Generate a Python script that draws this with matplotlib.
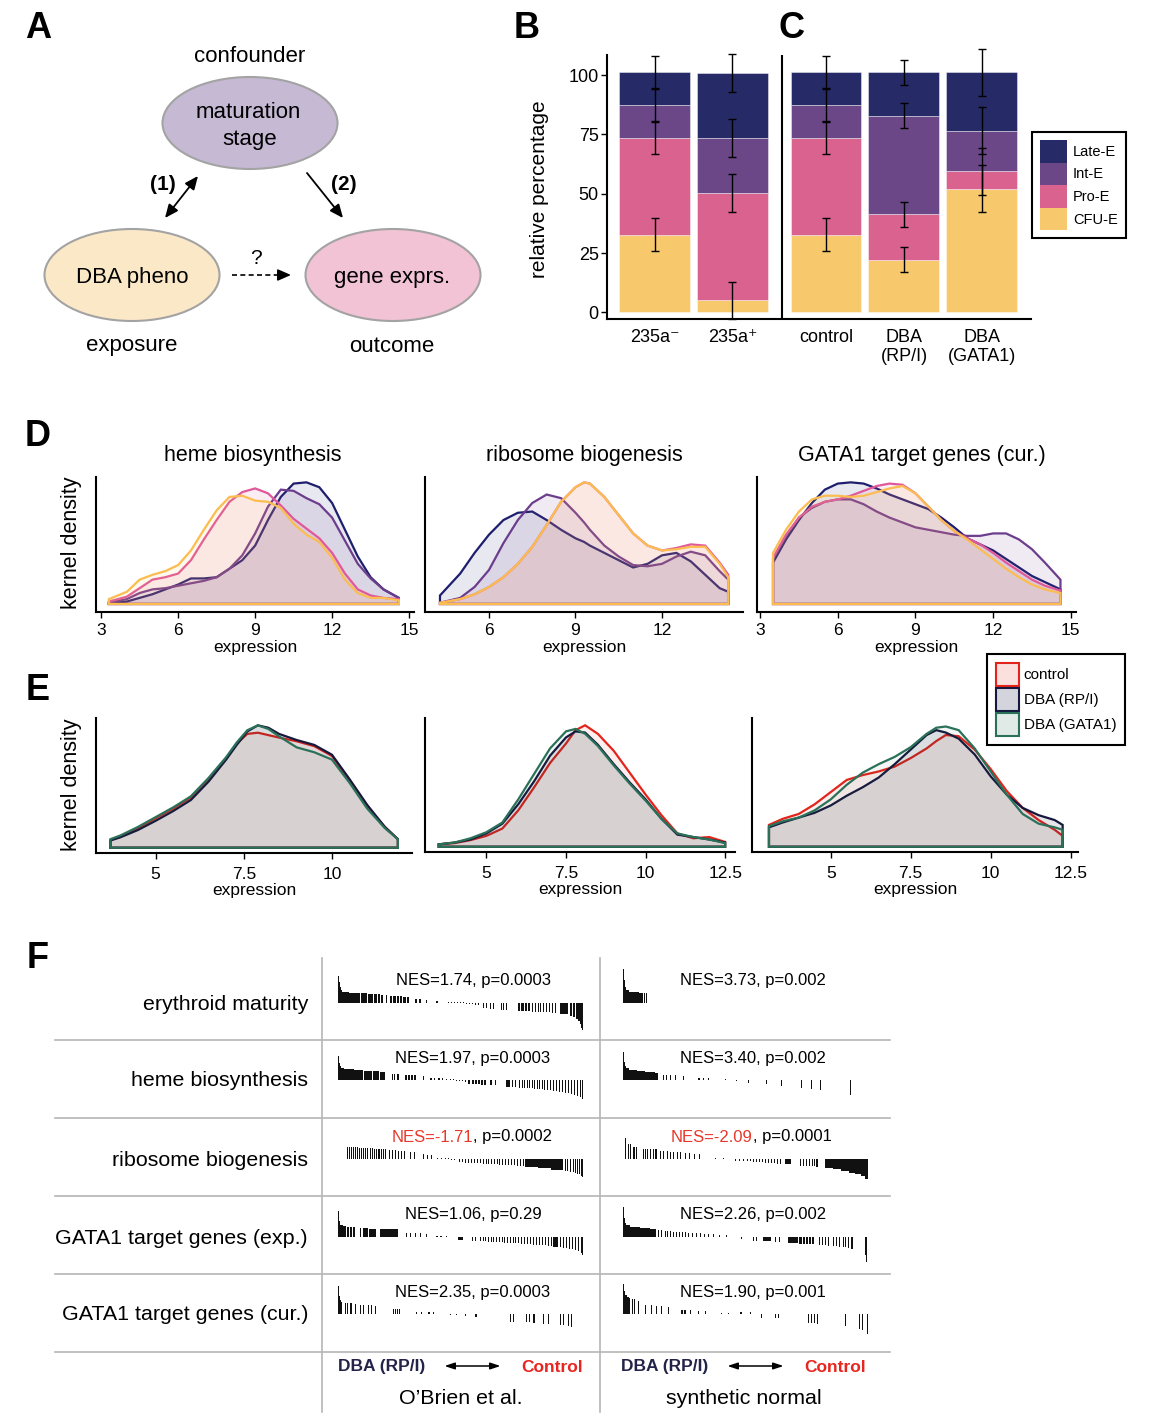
import numpy as np
import matplotlib
matplotlib.use("Agg")
import matplotlib.pyplot as plt
from matplotlib.patches import Ellipse, Patch
from matplotlib.colors import to_rgba

plt.rcParams['font.family'] = ['Liberation Sans', 'DejaVu Sans']

# ---------------- data ----------------
# B/C: stacked stage percentages with error bars
bc_groups = ["235a\u207b", "235a\u207a", "control", "DBA\n(RP/I)", "DBA\n(GATA1)"]
bc_pos = [0, 1, 2.2, 3.2, 4.2]
stage_names = ["CFU-E", "Pro-E", "Int-E", "Late-E"]
stage_colors = ["#f7c86c", "#d9628f", "#6b4787", "#262b68"]
cfu_e = [32.7, 5.0, 32.7, 22.2, 52.2]
pro_e = [40.8, 45.3, 40.8, 19.2, 7.2]
int_e = [13.9, 23.2, 13.9, 41.5, 17.1]
late_e = [13.9, 27.3, 13.9, 18.4, 24.8]
bc_err = [6.9, 8.0, 6.9, 5.3, 9.9]

# D: kernel densities per stage (order Late-E, Int-E, Pro-E, CFU-E)
d_titles = ["heme biosynthesis", "ribosome biogenesis", "GATA1 target genes (cur.)"]
d_colors = ["#1e1e6e", "#6c3d8c", "#e0589a", "#fbbd4f"]

heme_x = [3.3, 4.0, 4.5, 5.0, 5.5, 6.0, 6.5, 7.0, 7.5, 8.0, 8.5, 9.0, 9.5, 10.0, 10.5, 11.0, 11.5, 12.0, 12.5, 13.0, 13.5, 14.0, 14.6]
heme_late = [0.01, 0.02, 0.05, 0.08, 0.12, 0.16, 0.21, 0.21, 0.22, 0.29, 0.36, 0.48, 0.69, 0.88, 0.99, 1.0, 0.96, 0.83, 0.61, 0.39, 0.22, 0.12, 0.05]
heme_int = [0.01, 0.04, 0.09, 0.12, 0.13, 0.15, 0.17, 0.19, 0.22, 0.29, 0.40, 0.58, 0.80, 0.94, 0.93, 0.87, 0.82, 0.71, 0.52, 0.33, 0.21, 0.12, 0.05]
heme_pro = [0.02, 0.06, 0.13, 0.20, 0.22, 0.25, 0.36, 0.53, 0.69, 0.84, 0.92, 0.95, 0.91, 0.81, 0.70, 0.62, 0.54, 0.42, 0.25, 0.12, 0.07, 0.05, 0.04]
heme_cfu = [0.04, 0.10, 0.20, 0.24, 0.27, 0.32, 0.44, 0.61, 0.77, 0.88, 0.89, 0.85, 0.84, 0.79, 0.66, 0.57, 0.51, 0.38, 0.20, 0.09, 0.05, 0.05, 0.03]

ribo_x = [4.3, 5.0, 5.5, 6.0, 6.5, 7.0, 7.5, 8.0, 8.5, 9.0, 9.3, 9.5, 10.0, 10.5, 11.0, 11.5, 12.0, 12.5, 13.0, 13.5, 14.0, 14.3]
ribo_late = [0.07, 0.25, 0.42, 0.57, 0.69, 0.75, 0.76, 0.69, 0.61, 0.54, 0.51, 0.48, 0.42, 0.36, 0.30, 0.33, 0.40, 0.42, 0.35, 0.24, 0.13, 0.10]
ribo_int = [0.01, 0.05, 0.14, 0.28, 0.50, 0.69, 0.83, 0.90, 0.87, 0.75, 0.67, 0.61, 0.48, 0.39, 0.32, 0.31, 0.33, 0.39, 0.43, 0.40, 0.27, 0.20]
ribo_pro = [0.01, 0.04, 0.08, 0.14, 0.22, 0.33, 0.47, 0.65, 0.84, 0.96, 1.0, 0.99, 0.88, 0.73, 0.58, 0.48, 0.44, 0.46, 0.49, 0.48, 0.34, 0.24]
ribo_cfu = [0.01, 0.04, 0.08, 0.14, 0.22, 0.33, 0.47, 0.65, 0.84, 0.96, 1.0, 0.99, 0.88, 0.73, 0.58, 0.48, 0.44, 0.45, 0.47, 0.47, 0.33, 0.22]

gata_x = [3.5, 4.0, 4.5, 5.0, 5.5, 6.0, 6.5, 7.0, 7.5, 8.0, 8.5, 9.0, 9.5, 10.0, 10.5, 11.0, 11.5, 12.0, 12.5, 13.0, 13.5, 14.0, 14.6]
gata_late = [0.34, 0.53, 0.69, 0.83, 0.94, 0.99, 1.0, 0.99, 0.95, 0.90, 0.86, 0.82, 0.78, 0.71, 0.63, 0.54, 0.49, 0.44, 0.37, 0.30, 0.23, 0.18, 0.12]
gata_int = [0.37, 0.56, 0.71, 0.79, 0.84, 0.86, 0.86, 0.82, 0.76, 0.71, 0.67, 0.63, 0.61, 0.59, 0.57, 0.56, 0.56, 0.58, 0.58, 0.53, 0.45, 0.34, 0.20]
gata_pro = [0.38, 0.57, 0.71, 0.80, 0.84, 0.86, 0.89, 0.93, 0.97, 0.99, 0.98, 0.91, 0.80, 0.69, 0.60, 0.54, 0.49, 0.42, 0.34, 0.27, 0.20, 0.15, 0.11]
gata_cfu = [0.42, 0.61, 0.76, 0.86, 0.89, 0.89, 0.88, 0.89, 0.92, 0.95, 0.97, 0.91, 0.80, 0.69, 0.60, 0.53, 0.45, 0.37, 0.29, 0.22, 0.16, 0.12, 0.09]

# E: kernel densities per sample group (order control, DBA RP/I, DBA GATA1)
e_names = ["control", "DBA (RP/I)", "DBA (GATA1)"]
e_colors = ["#e3241b", "#15173d", "#2b7159"]

e1_x = [3.72, 4.0, 4.5, 5.0, 5.5, 6.0, 6.5, 7.0, 7.3, 7.6, 7.9, 8.2, 8.5, 9.0, 9.5, 10.0, 10.5, 11.0, 11.5, 11.87]
e1_ctrl = [0.06, 0.09, 0.16, 0.24, 0.32, 0.41, 0.56, 0.73, 0.85, 0.93, 0.94, 0.92, 0.90, 0.87, 0.83, 0.75, 0.55, 0.34, 0.17, 0.07]
e1_rp = [0.06, 0.085, 0.145, 0.22, 0.30, 0.39, 0.54, 0.72, 0.84, 0.95, 1.0, 0.98, 0.93, 0.88, 0.84, 0.76, 0.56, 0.35, 0.17, 0.07]
e1_gata = [0.07, 0.10, 0.17, 0.25, 0.33, 0.42, 0.57, 0.74, 0.86, 0.96, 1.0, 0.97, 0.91, 0.82, 0.78, 0.72, 0.53, 0.32, 0.16, 0.07]

e2_x = [3.5, 4.0, 4.5, 5.0, 5.5, 6.0, 6.5, 7.0, 7.5, 7.8, 8.1, 8.5, 9.0, 9.5, 10.0, 10.5, 11.0, 11.5, 12.0, 12.5]
e2_ctrl = [0.02, 0.03, 0.055, 0.09, 0.15, 0.30, 0.49, 0.69, 0.85, 0.96, 1.0, 0.93, 0.79, 0.61, 0.43, 0.26, 0.11, 0.07, 0.08, 0.04]
e2_rp = [0.02, 0.035, 0.06, 0.11, 0.19, 0.35, 0.54, 0.75, 0.90, 0.95, 0.94, 0.84, 0.68, 0.53, 0.39, 0.23, 0.10, 0.08, 0.06, 0.035]
e2_gata = [0.02, 0.035, 0.07, 0.12, 0.20, 0.39, 0.60, 0.81, 0.95, 0.97, 0.93, 0.83, 0.67, 0.52, 0.38, 0.23, 0.11, 0.08, 0.06, 0.03]

e3_x = [3.07, 3.5, 4.0, 4.5, 5.0, 5.5, 6.0, 6.5, 7.0, 7.5, 8.0, 8.3, 8.6, 9.0, 9.5, 10.0, 10.5, 11.0, 11.5, 12.0, 12.25]
e3_ctrl = [0.18, 0.23, 0.27, 0.35, 0.45, 0.55, 0.59, 0.62, 0.66, 0.73, 0.81, 0.87, 0.92, 0.91, 0.80, 0.64, 0.46, 0.32, 0.22, 0.14, 0.09]
e3_rp = [0.16, 0.20, 0.24, 0.28, 0.34, 0.42, 0.49, 0.57, 0.68, 0.80, 0.92, 0.96, 0.94, 0.89, 0.76, 0.58, 0.43, 0.32, 0.26, 0.22, 0.18]
e3_gata = [0.17, 0.21, 0.24, 0.30, 0.39, 0.51, 0.61, 0.68, 0.74, 0.82, 0.93, 0.98, 0.99, 0.96, 0.81, 0.62, 0.43, 0.27, 0.19, 0.16, 0.14]

# F: GSEA barcodes, hits as (rank bin, run width, ranked metric) on a 245-bin list
f_rows = ["erythroid maturity", "heme biosynthesis", "ribosome biogenesis",
          "GATA1 target genes (exp.)", "GATA1 target genes (cur.)"]
obrien_nes = ["1.74", "1.97", "-1.71", "1.06", "2.35"]
obrien_p = ["0.0003", "0.0003", "0.0002", "0.29", "0.0003"]
synth_nes = ["3.73", "3.40", "-2.09", "2.26", "1.90"]
synth_p = ["0.002", "0.002", "0.0001", "0.002", "0.001"]

obrien_ery = [(0, 1, 27), (1, 1, 21), (2, 1, 16), (3, 1, 13), (4, 7, 11.5), (11, 11, 10.3), (23, 6, 9.6), (30, 5, 9.2),
              (36, 3, 9), (40, 2, 8.6), (43, 2, 8.4), (48, 1, 8), (52, 2, 7.4), (55, 3, 7.2), (59, 2, 7), (62, 2, 6.8),
              (65, 3, 6.2), (69, 2, 5.8), (77, 2, 4.3), (81, 2, 4), (88, 1, 3.5), (98, 2, 2), (110, 1, 1), (113, 1, 1),
              (116, 1, 1), (119, 1, 1), (122, 1, 1), (125, 1, 0.8), (128, 1, -1), (131, 1, -1), (134, 1, -1.2),
              (137, 1, -1.5), (140, 1, -2), (145, 1, -5), (148, 1, -5), (152, 1, -5.5), (155, 1, -5.5), (163, 1, -6.5),
              (165, 1, -6.5), (168, 1, -6.5), (180, 2, -8), (183, 3, -8), (187, 2, -8), (190, 2, -8.2), (194, 1, -8.5),
              (197, 1, -8.5), (200, 1, -8.7), (202, 1, -9), (205, 1, -9), (208, 1, -9), (211, 1, -9.2), (214, 1, -9.5),
              (217, 1, -9.5), (222, 8, -11), (232, 2, -13), (235, 2, -14), (238, 2, -16), (240, 2, -18), (242, 1, -21),
              (243, 1, -25), (244, 1, -27)]
obrien_heme = [(0, 1, 24), (1, 1, 17), (2, 1, 14), (3, 3, 12.5), (6, 10, 11.5), (16, 9, 10.3), (26, 8, 9.5), (35, 6, 8.7),
               (42, 5, 8), (54, 1, 6.5), (56, 1, 6.3), (59, 2, 6.2), (67, 2, 5.2), (70, 2, 5), (73, 2, 4.8), (76, 2, 4.6),
               (85, 1, 4), (92, 2, 2.5), (96, 1, 2.3), (100, 2, 2), (104, 1, 1.8), (108, 1, 1), (112, 1, 1), (115, 1, 0.8),
               (118, 1, -1), (121, 1, -1), (124, 1, -1.2), (127, 1, -1.5), (130, 2, -3.5), (134, 2, -4), (137, 2, -4),
               (140, 2, -4.2), (143, 2, -4.5), (146, 2, -4.7), (152, 2, -5), (157, 1, -5.2), (168, 4, -6.5), (174, 1, -6.7),
               (177, 1, -6.8), (181, 1, -7.5), (184, 1, -7.6), (186, 1, -7.8), (189, 1, -8), (191, 1, -8.2), (194, 1, -8.4),
               (196, 1, -8.6), (199, 1, -8.8), (201, 1, -9), (204, 1, -9.3), (206, 1, -9.5), (209, 1, -9.8), (212, 1, -10),
               (215, 1, -10.5), (218, 1, -11), (221, 1, -11.5), (224, 1, -12), (227, 1, -12.5), (230, 1, -13),
               (233, 1, -13.5), (236, 1, -14.5), (239, 1, -15.5), (242, 1, -17), (244, 1, -19)]
obrien_ribo = [(9, 1, 12.3), (11, 1, 12.2), (13, 1, 12), (15, 1, 12), (17, 1, 11.8), (19, 1, 11.6), (21, 1, 11.5),
               (23, 1, 11.3), (25, 1, 11.2), (27, 1, 11), (29, 1, 11), (32, 1, 10.8), (34, 1, 10.6), (36, 1, 10.5),
               (38, 1, 10.4), (40, 2, 10.2), (43, 1, 10), (45, 1, 9.8), (47, 1, 9.6), (51, 1, 9.2), (54, 1, 9), (57, 1, 8.8),
               (60, 1, 8.5), (63, 1, 8.3), (66, 1, 8), (72, 1, 7), (76, 1, 6.8), (85, 1, 5), (89, 1, 4.5), (93, 1, 4),
               (99, 1, 1), (103, 1, 1), (107, 1, 1), (110, 1, 1), (113, 1, -1), (116, 1, -1), (121, 1, -3.3),
               (124, 1, -3.4), (127, 1, -3.5), (130, 1, -3.6), (133, 1, -3.8), (136, 1, -4), (139, 1, -4.1),
               (142, 1, -4.3), (145, 1, -4.5), (148, 1, -4.6), (150, 1, -4.8), (153, 1, -5), (156, 1, -5.1),
               (159, 1, -5.3), (161, 1, -5.5), (164, 1, -5.6), (167, 1, -5.8), (170, 1, -6), (173, 1, -6.2),
               (176, 1, -6.4), (179, 1, -6.6), (182, 1, -6.8), (185, 1, -7), (187, 13, -7.6), (200, 13, -8.9),
               (213, 12, -10.5), (227, 1, -12), (229, 1, -12.3), (232, 1, -12.8), (235, 1, -13.3), (237, 1, -13.8),
               (239, 1, -14.5), (241, 1, -15.3), (243, 1, -16.5), (244, 1, -17.7)]
obrien_gexp = [(0, 1, 26), (1, 1, 16), (2, 3, 12), (5, 3, 11), (9, 2, 10.5), (12, 2, 10.2), (15, 2, 10), (22, 1, 9.5),
               (25, 5, 9), (31, 7, 8.5), (42, 18, 8), (68, 1, 4.5), (72, 1, 4.2), (77, 1, 4), (82, 1, 3.8), (88, 1, 3.5),
               (98, 2, 1), (102, 2, 1), (108, 1, 0.8), (120, 5, -3), (134, 1, -3.5), (137, 1, -3.5), (142, 1, -4),
               (145, 1, -4.2), (147, 1, -4.4), (150, 1, -4.5), (153, 1, -4.7), (155, 1, -4.9), (158, 1, -5),
               (161, 1, -5.2), (164, 1, -5.4), (166, 1, -5.5), (169, 1, -5.7), (172, 1, -5.9), (175, 1, -6),
               (177, 1, -6.2), (180, 1, -6.4), (183, 1, -6.6), (186, 1, -6.8), (189, 1, -7), (192, 1, -7.2),
               (195, 1, -7.5), (198, 1, -7.7), (201, 1, -7.9), (204, 1, -8.1), (207, 1, -8.3), (210, 1, -8.5),
               (213, 1, -8.8), (215, 5, -9.5), (222, 1, -10.2), (225, 1, -10.5), (228, 1, -11), (231, 1, -11.5),
               (234, 1, -12), (237, 1, -13), (240, 1, -14), (243, 1, -15.5), (244, 1, -17.7)]
obrien_gcur = [(0, 1, 28), (1, 1, 18), (2, 1, 14), (3, 1, 12.5), (7, 1, 11.5), (9, 1, 11.3), (12, 2, 11), (17, 1, 10),
               (22, 1, 9.5), (25, 1, 9.3), (30, 1, 9), (33, 1, 8.8), (37, 1, 8.5), (55, 1, 5.2), (57, 1, 5), (59, 1, 5),
               (61, 1, 4.8), (78, 1, 2.5), (83, 1, 2.5), (90, 2, 2), (95, 1, 1.8), (112, 1, -1), (118, 1, -1),
               (127, 1, -2), (137, 2, -2.5), (172, 1, -7.5), (175, 1, -7.5), (188, 1, -8), (191, 1, -8), (195, 2, -8.5),
               (205, 1, -9.5), (210, 1, -9.5), (222, 1, -11), (225, 1, -11), (230, 1, -12), (233, 1, -12.5)]

synth_ery = [(0, 1, 34), (1, 1, 23), (2, 1, 16), (3, 3, 13), (6, 10, 11.5), (16, 3, 10.5), (19, 1, 10.3), (21, 1, 10),
             (23, 1, 10)]
synth_heme = [(0, 1, 28), (1, 1, 18), (2, 1, 14), (3, 3, 12), (6, 8, 10.5), (14, 8, 9), (22, 10, 8), (32, 3, 7),
              (40, 1, 5.5), (43, 1, 5.3), (47, 1, 5), (52, 1, 5), (60, 1, 4.5), (75, 2, 2), (80, 1, 2), (85, 1, 1.7),
              (102, 1, 0.8), (113, 1, -1), (125, 1, -3), (143, 1, -4), (158, 1, -5.5), (178, 1, -8), (188, 1, -9),
              (197, 1, -9.5), (227, 1, -15)]
synth_ribo = [(2, 1, 21), (5, 1, 15), (7, 1, 15), (10, 2, 12.5), (13, 1, 12), (20, 1, 10.5), (22, 1, 10.3), (24, 1, 10.2),
              (27, 1, 10), (30, 1, 10), (32, 2, 9.8), (37, 1, 8.5), (40, 1, 8.2), (44, 1, 7.8), (47, 1, 7.5), (50, 1, 7.3),
              (54, 1, 7), (57, 1, 6.8), (62, 1, 6.5), (66, 1, 6), (71, 1, 5.5), (76, 1, 5), (92, 1, 1), (100, 1, 1),
              (112, 1, -1.5), (116, 1, -1.5), (120, 1, -1.7), (124, 1, -2), (127, 1, -2.2), (130, 1, -2.5),
              (133, 1, -2.7), (136, 1, -3), (139, 1, -3.3), (142, 1, -3.6), (145, 1, -4), (148, 1, -4.2),
              (151, 1, -4.4), (154, 1, -4.6), (157, 1, -4.8), (162, 6, -5.3), (177, 1, -6.5), (180, 1, -6.7),
              (183, 1, -6.9), (186, 1, -7.1), (189, 1, -7.3), (191, 1, -7.4), (193, 2, -7.6), (202, 8, -8.8),
              (210, 8, -10.2), (218, 8, -12), (226, 6, -13.7), (232, 6, -15.3), (238, 4, -17.3), (242, 3, -20)]
synth_gexp = [(0, 1, 30), (1, 1, 19), (2, 1, 14), (3, 4, 12.5), (7, 10, 10.5), (17, 10, 9), (27, 6, 8), (35, 1, 7),
              (38, 1, 6.8), (42, 1, 6.2), (44, 1, 6), (47, 1, 5.6), (50, 1, 5.4), (53, 1, 5.2), (56, 1, 5), (59, 1, 4.8),
              (62, 1, 4.6), (65, 1, 4.4), (69, 1, 4.2), (73, 1, 4), (77, 1, 3.7), (81, 1, 3.4), (85, 1, 3), (90, 1, 2.6),
              (96, 1, 2.2), (103, 1, 1.8), (118, 1, -1.5), (130, 1, -3.5), (133, 1, -3.5), (140, 8, -4), (152, 1, -4.5),
              (156, 1, -4.6), (165, 10, -5.5), (176, 3, -6.5), (180, 2, -6.8), (183, 2, -7), (186, 2, -7.2),
              (189, 2, -7.4), (196, 1, -8), (199, 1, -8.2), (202, 1, -8.4), (205, 1, -8.6), (210, 1, -9.2),
              (213, 1, -9.4), (216, 1, -9.6), (220, 1, -10), (222, 1, -10.2), (225, 1, -11), (228, 2, -11.5),
              (242, 1, -18), (243, 1, -25)]
synth_gcur = [(0, 1, 30), (1, 1, 23), (2, 2, 19), (4, 2, 17), (6, 1, 16), (9, 1, 15.5), (11, 1, 15), (15, 1, 13),
              (22, 1, 9.5), (28, 1, 9), (33, 1, 8.5), (38, 1, 8), (45, 1, 7.5), (58, 2, 4.5), (61, 2, 4.3), (67, 1, 4),
              (75, 1, 3.5), (82, 1, 3), (98, 1, 1), (105, 1, 1), (117, 2, 2), (127, 1, 2), (138, 1, -4), (152, 1, -4),
              (155, 1, -4), (185, 1, -9), (188, 1, -9), (191, 1, -9.3), (194, 1, -9.5), (222, 1, -12), (236, 1, -15),
              (239, 1, -15.5), (244, 1, -20)]

# ---------------- figure ----------------
W, H = 1152, 1426
fig = plt.figure(figsize=(W / 100, H / 100), dpi=100)


def px_axes(x0, y0, x1, y1):
    return fig.add_axes([x0 / W, 1 - y1 / H, (x1 - x0) / W, (y1 - y0) / H])


canvas = px_axes(0, 0, W, H)
canvas.set_xlim(0, W)
canvas.set_ylim(H, 0)
canvas.axis("off")

for lab, (x, y) in zip("ABCDEF", [(38, 29), (527, 29), (792, 29), (38, 437), (38, 691), (38, 959)]):
    canvas.text(x, y, lab, fontsize=26, fontweight="bold", ha="center", va="center")

# A: causal diagram
for (cx, cy), fc in [((250, 123), "#c6b9d4"), ((132, 275), "#fbe8c7"), ((393, 275), "#f2c2d5")]:
    canvas.add_patch(Ellipse((cx, cy), 175, 92, facecolor=fc, edgecolor="#a3a3a3", lw=1.5))
canvas.text(250, 56, "confounder", fontsize=16, ha="center", va="center")
canvas.text(248, 112, "maturation", fontsize=16, ha="center", va="center")
canvas.text(250, 140, "stage", fontsize=16, ha="center", va="center")
canvas.text(132, 278, "DBA pheno", fontsize=16, ha="center", va="center")
canvas.text(392, 278, "gene exprs.", fontsize=16, ha="center", va="center")
canvas.text(132, 346, "exposure", fontsize=16, ha="center", va="center")
canvas.text(392, 346, "outcome", fontsize=16, ha="center", va="center")
canvas.text(256, 258, "?", fontsize=15, ha="center", va="center")
canvas.text(163, 185, "(1)", fontsize=15, fontweight="bold", ha="center", va="center")
canvas.text(344, 185, "(2)", fontsize=15, fontweight="bold", ha="center", va="center")
canvas.annotate("", xy=(198, 176), xytext=(165, 218),
                arrowprops=dict(arrowstyle="<|-|>,head_length=0.8,head_width=0.35", color="black", lw=1.3,
                                shrinkA=0, shrinkB=0))
canvas.annotate("", xy=(343, 218), xytext=(307, 173),
                arrowprops=dict(arrowstyle="-|>,head_length=0.8,head_width=0.35", color="black", lw=1.3,
                                shrinkA=0, shrinkB=0))
canvas.plot([232, 282], [275, 275], color="black", lw=1.2, ls=(0, (3, 2)))
canvas.annotate("", xy=(291, 275), xytext=(280, 275),
                arrowprops=dict(arrowstyle="-|>,head_length=0.8,head_width=0.35", color="black", lw=1.2,
                                shrinkA=0, shrinkB=0))

# B/C: stacked bars
ax = px_axes(607, 55, 1031, 319)
bottom = np.zeros(len(bc_pos))
for vals, col in zip([cfu_e, pro_e, int_e, late_e], stage_colors):
    ax.bar(bc_pos, vals, bottom=bottom, width=0.91, color=col, edgecolor=to_rgba("white", 0.5), linewidth=0.6)
    bottom = bottom + np.array(vals)
    eb = ax.errorbar(bc_pos, bottom, yerr=bc_err, fmt="none", ecolor="black", elinewidth=1, capsize=3, capthick=1)
    for art in list(eb.lines[1]) + list(eb.lines[2]):
        art.set_clip_on(False)
ax.axvline(1.63, color="black", lw=1.5)
ax.set_xlim(-0.61, 4.83)
ax.set_ylim(-2.8, 108.5)
for s in ["top", "right"]:
    ax.spines[s].set_visible(False)
for s in ["left", "bottom"]:
    ax.spines[s].set_linewidth(1.5)
ax.set_yticks([0, 25, 50, 75, 100])
ax.set_xticks(bc_pos, bc_groups)
ax.tick_params(axis="y", length=4, width=1, labelsize=13, pad=2)
ax.tick_params(axis="x", length=0, labelsize=13, pad=7)
ax.set_ylabel("relative percentage", fontsize=15)
ax.yaxis.set_label_coords(-0.137, 0.49)
leg = fig.legend([Patch(facecolor=c) for c in stage_colors[::-1]], stage_names[::-1], loc="upper left",
                 bbox_to_anchor=(1032 / W, 1 - 132 / H), frameon=True, fancybox=False, edgecolor="black",
                 framealpha=1, fontsize=10.5, handlelength=1.85, handleheight=2.0, handletextpad=0.4,
                 labelspacing=0, borderpad=0.55, borderaxespad=0)
leg.get_frame().set_linewidth(1.5)


def style_density(ax, xlim, ylim, ticks, ticklabels, pad):
    ax.set_xlim(*xlim)
    ax.set_ylim(*ylim)
    for s in ["top", "right"]:
        ax.spines[s].set_visible(False)
    for s in ["left", "bottom"]:
        ax.spines[s].set_linewidth(1.5)
    ax.set_yticks([])
    ax.set_xticks(ticks, ticklabels)
    ax.tick_params(axis="x", length=4, width=1, labelsize=12.5, pad=pad)
    ax.set_xlabel("expression", fontsize=12.5, labelpad=1)


def draw_density(ax, x, ys, color, alpha, lw=1.6):
    xs = np.concatenate([[x[0]], x, [x[-1]]])
    yv = np.concatenate([[0], ys, [0]])
    ax.fill(xs, yv, facecolor=to_rgba(color, alpha), edgecolor=color, lw=lw)


# D: stage densities
d_boxes = [(96, 477, 414, 612), (425, 477, 743, 612), (757, 477, 1076, 612)]
d_xlims = [(2.8, 15.19), (3.78, 14.81), (2.88, 15.2)]
d_ticks = [[3, 6, 9, 12, 15], [6, 9, 12], [3, 6, 9, 12, 15]]
d_title_x = [253, 584, 922]
d_data = [(heme_x, [heme_late, heme_int, heme_pro, heme_cfu]),
          (ribo_x, [ribo_late, ribo_int, ribo_pro, ribo_cfu]),
          (gata_x, [gata_late, gata_int, gata_pro, gata_cfu])]
for box, xl, tk, title, tx, (x, series) in zip(d_boxes, d_xlims, d_ticks, d_titles, d_title_x, d_data):
    dax = px_axes(*box)
    for ys, c in zip(series, d_colors):
        draw_density(dax, x, ys, c, 0.1)
    style_density(dax, xl, (-0.066, 1.044), tk, [str(t) for t in tk], 4)
    canvas.text(tx, 455, title, fontsize=15.5, ha="center", va="center")
canvas.text(72, 543, "kernel density", fontsize=15.5, rotation=90, ha="center", va="center")

# E: sample group densities
e_boxes = [(96, 718, 412, 853), (425, 718, 735, 852), (752, 718, 1078, 852)]
e_xlims = [(3.31, 12.27), (3.07, 12.81), (2.54, 12.73)]
e_ticks = [[5, 7.5, 10], [5, 7.5, 10, 12.5], [5, 7.5, 10, 12.5]]
e_alpha = [0.07, 0.11, 0.06]
e_data = [(e1_x, [e1_ctrl, e1_rp, e1_gata]), (e2_x, [e2_ctrl, e2_rp, e2_gata]), (e3_x, [e3_ctrl, e3_rp, e3_gata])]
for box, xl, tk, (x, series) in zip(e_boxes, e_xlims, e_ticks, e_data):
    eax = px_axes(*box)
    for ys, c, a in zip(series, e_colors, e_alpha):
        draw_density(eax, x, ys, c, a)
    style_density(eax, xl, (-0.043, 1.06), tk, ["%g" % t for t in tk], 6)
canvas.text(72, 785, "kernel density", fontsize=15.5, rotation=90, ha="center", va="center")
leg_e = fig.legend([Patch(facecolor=to_rgba(c, a), edgecolor=c, lw=1.5) for c, a in zip(e_colors, [0.14, 0.18, 0.14])],
                   e_names, loc="upper left", bbox_to_anchor=(987 / W, 1 - 654 / H), frameon=True, fancybox=False,
                   edgecolor="black", framealpha=1, fontsize=11, handlelength=1.5, handleheight=1.9,
                   handletextpad=0.3, labelspacing=0.15, borderpad=0.6, borderaxespad=0)
leg_e.get_frame().set_linewidth(1.5)

# F: GSEA table
grid_c = "#b5b5b5"
for y in [1040, 1118, 1196, 1274, 1352]:
    canvas.plot([55, 890], [y, y], color=grid_c, lw=1.2)
for x in [322, 600]:
    canvas.plot([x, x], [958, 1412], color=grid_c, lw=1.2)

row_y = [1003, 1080, 1159, 1237, 1314]
for name, y in zip(f_rows, row_y):
    canvas.text(308, y + 1, name, fontsize=15.4, ha="right", va="center")

columns = [(338, 473, [obrien_ery, obrien_heme, obrien_ribo, obrien_gexp, obrien_gcur], obrien_nes, obrien_p),
           (623, 753, [synth_ery, synth_heme, synth_ribo, synth_gexp, synth_gcur], synth_nes, synth_p)]
for x0, xc, sets, nes, pv, in columns:
    for hits, zy, n, p in zip(sets, row_y, nes, pv):
        bx = px_axes(x0, zy - 35, x0 + 245, zy + 35)
        bx.set_xlim(0, 245)
        bx.set_ylim(-35, 35)
        bx.axis("off")
        starts, widths, heights = zip(*hits)
        bx.bar(starts, heights, width=widths, align="edge", color="#111111", linewidth=0)
        ty = zy - 22
        if n.startswith("-"):
            canvas.text(xc, ty, "NES=" + n, color="#e8372a", fontsize=12, ha="right", va="center")
            canvas.text(xc, ty, ", p=" + p, fontsize=12, ha="left", va="center")
        else:
            canvas.text(xc, ty, "NES=%s, p=%s" % (n, p), fontsize=12, ha="center", va="center")

for x0, x1, label in [(338, 583, "O\u2019Brien et al."), (621, 866, "synthetic normal")]:
    canvas.text(x0, 1367, "DBA (RP/I)", color="#23234a", fontsize=12.5, fontweight="bold", ha="left", va="center")
    canvas.text(x1, 1367, "Control", color="#e8251f", fontsize=12.5, fontweight="bold", ha="right", va="center")
    mid = (x0 + x1) / 2 + 12
    canvas.annotate("", xy=(mid + 28, 1366), xytext=(mid - 28, 1366),
                    arrowprops=dict(arrowstyle="<|-|>,head_length=0.6,head_width=0.2", color="black", lw=1.1,
                                    shrinkA=0, shrinkB=0))
    canvas.text((x0 + x1) / 2, 1398, label, fontsize=15.4, ha="center", va="center")

fig.savefig("out.png", dpi=100)
